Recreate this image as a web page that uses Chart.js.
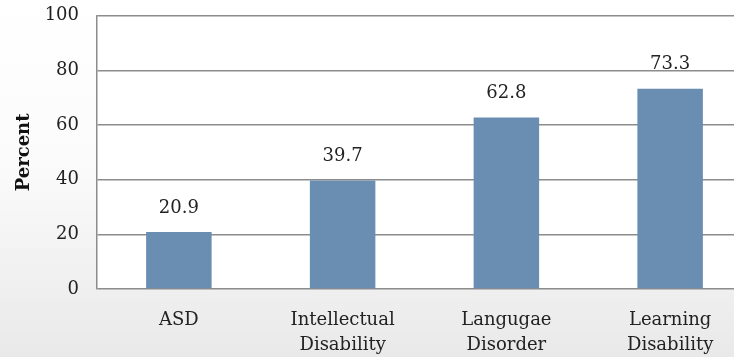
<!DOCTYPE html>
<html>
<head>
<meta charset="utf-8">
<script src="https://cdn.jsdelivr.net/npm/chart.js@4"></script>
<style>
html,body{margin:0;padding:0;overflow:hidden;width:734px;height:357px;background:#fff;}
#wrap{width:752px;height:370px;margin-top:-13px;}
</style>
</head>
<body>
<div id="wrap"><canvas id="c" width="752" height="370"></canvas></div>
<script>
const categories = [["ASD"], ["Intellectual", "Disability"], ["Langugae", "Disorder"], ["Learning", "Disability"]];
const percentValues = [20.9, 39.7, 62.8, 73.3];
const valueLabels = ["20.9", "39.7", "62.8", "73.3"];
const yTicks = [0, 20, 40, 60, 80, 100];
const yTitle = "Percent";

const FONT = "'DejaVu Serif', 'Liberation Serif', serif";

const bgPlugin = {
  id: 'bg',
  beforeDraw(chart) {
    const ctx = chart.ctx, a = chart.chartArea;
    ctx.save();
    const g = ctx.createLinearGradient(0, 13, 0, chart.height);
    g.addColorStop(0, '#ffffff');
    g.addColorStop(0.45, '#fbfbfb');
    g.addColorStop(1, '#e9e9e9');
    ctx.fillStyle = g;
    ctx.fillRect(0, 0, chart.width, chart.height);
    ctx.fillStyle = '#ffffff';
    ctx.fillRect(a.left, a.top, a.right - a.left, a.bottom - a.top);
    ctx.restore();
  }
};

const labelPlugin = {
  id: 'vlabels',
  afterDatasetsDraw(chart) {
    const ctx = chart.ctx;
    const meta = chart.getDatasetMeta(0);
    ctx.save();
    ctx.font = "18px " + FONT;
    ctx.fillStyle = '#222';
    ctx.textAlign = 'center';
    ctx.textBaseline = 'middle';
    meta.data.forEach((bar, i) => {
      ctx.fillText(valueLabels[i], bar.x, bar.y - 24);
    });
    ctx.restore();
  }
};

new Chart(document.getElementById('c'), {
  type: 'bar',
  data: {
    labels: categories,
    datasets: [{
      data: percentValues,
      backgroundColor: '#6a8db2',
      borderWidth: 0,
      barPercentage: 0.4,
      categoryPercentage: 1.0
    }]
  },
  options: {
    responsive: false,
    animation: false,
    layout: { padding: { top: 0, left: 10, right: 0, bottom: 0 } },
    plugins: { legend: { display: false }, tooltip: { enabled: false } },
    scales: {
      x: {
        grid: { display: false },
        border: { display: false },
        ticks: { color: '#222', font: { family: FONT, size: 18, lineHeight: 1.38 }, padding: 11, maxRotation: 0, autoSkip: false },
        afterFit(s) { s.height = 68; }
      },
      y: {
        min: 0, max: 100,
        afterBuildTicks(s) { s.ticks = yTicks.map(v => ({ value: v })); },
        grid: { color: '#8c8c8c', lineWidth: 1.5, drawTicks: false },
        border: { display: true, color: '#8c8c8c', width: 1.5 },
        ticks: { color: '#222', font: { family: FONT, size: 18 }, padding: 18 },
        title: { display: true, text: yTitle, color: '#111', font: { family: FONT, size: 18, weight: 'bold' }, padding: 4 },
        afterFit(s) { s.width = 87; }
      }
    }
  },
  plugins: [bgPlugin, labelPlugin]
});
</script>
</body>
</html>
